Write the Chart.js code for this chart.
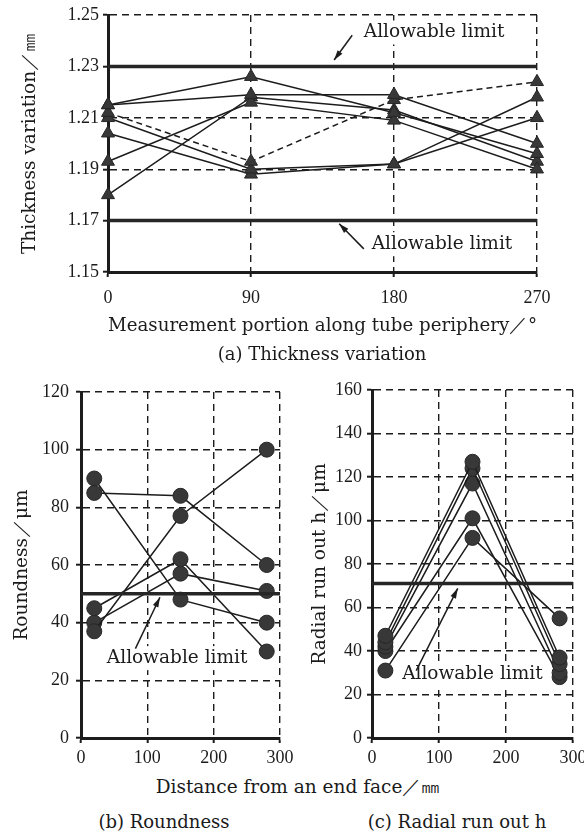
<!DOCTYPE html>
<html>
<head>
<meta charset="utf-8">
<script src="https://cdn.jsdelivr.net/npm/chart.js@4.4.1/dist/chart.umd.min.js"></script>
<style>
  body { margin: 0; background: #fff; width: 584px; height: 834px; position: relative; overflow: hidden;
         font-family: "DejaVu Serif", serif; color: #1a1a1a; }
  canvas { position: absolute; }
  .txt { position: absolute; white-space: nowrap; transform: translate(-50%, -50%); font-size: 18px; }
</style>
</head>
<body>
<canvas id="chartA" width="600" height="345" style="left:0;top:0"></canvas>
<canvas id="chartB" width="320" height="400" style="left:0;top:372px"></canvas>
<canvas id="chartC" width="330" height="400" style="left:290px;top:372px"></canvas>
<div class="txt" style="left:322px;top:353px">(a) Thickness variation</div>
<div class="txt" style="left:298px;top:786px;font-size:18.5px">Distance from an end face／㎜</div>
<div class="txt" style="left:164px;top:821px">(b) Roundness</div>
<div class="txt" style="left:457px;top:821px">(c) Radial run out h</div>
<script>
// (a) thickness, measured at 4 angles
const anglesA = [0, 90, 180, 270];
const thick1 = [1.215, 1.226, 1.212, 1.196];
const thick2 = [1.215, 1.219, 1.219, 1.200];
const thick3 = [1.212, 1.193, 1.217, 1.224]; // drawn dashed
const thick4 = [1.210, 1.190, 1.192, 1.218];
const thick5 = [1.204, 1.188, 1.192, 1.210];
const thick6 = [1.193, 1.216, 1.209, 1.190];
const thick7 = [1.180, 1.218, 1.213, 1.193];
const thickLimits = [1.23, 1.17];
const ticksAx = [0, 90, 180, 270];
const ticksAy = [1.15, 1.17, 1.19, 1.21, 1.23, 1.25];

// (b) roundness and (c) radial run out, measured at 3 distances
const distBC = [20, 150, 280];
const round1 = [85, 84, 60];
const round2 = [90, 48, 40];
const round3 = [37, 77, 100];
const round4 = [45, 62, 30];
const round5 = [40, 57, 51];
const roundLimit = 50;
const runout1 = [47, 127, 37];
const runout2 = [44, 124, 34];
const runout3 = [42, 117, 30];
const runout4 = [40, 101, 28];
const runout5 = [31, 92, 55];
const runoutLimit = 71;
const ticksBCx = [0, 100, 200, 300];
const ticksBy = [0, 20, 40, 60, 80, 100, 120];
const ticksCy = [0, 20, 40, 60, 80, 100, 120, 140, 160];

const INK = '#1c1c1c';
const TEXT_FONT = '18.5px "DejaVu Serif", serif';
Chart.defaults.font.family = '"DejaVu Serif", serif';
Chart.defaults.color = INK;
Chart.defaults.animation = false;

// "Allowable limit" labels with arrows, placed in data coordinates
const notePlugin = {
  id: 'notes',
  beforeDatasetsDraw(chart, args, opts) {
    const { ctx, scales: { x, y } } = chart;
    ctx.save();
    ctx.font = TEXT_FONT;
    (opts.items || []).forEach(n => {
      const tx = x.getPixelForValue(n.at[0]), ty = y.getPixelForValue(n.at[1]);
      const w = ctx.measureText(opts.label).width;
      ctx.fillStyle = '#fff';
      ctx.fillRect(tx - 2, ty - 12, w + 4, 24);
    });
    ctx.restore();
  },
  afterDatasetsDraw(chart, args, opts) {
    const { ctx, scales: { x, y } } = chart;
    (opts.items || []).forEach(n => {
      ctx.save();
      ctx.font = TEXT_FONT;
      ctx.fillStyle = INK;
      ctx.textBaseline = 'middle';
      ctx.fillText(opts.label, x.getPixelForValue(n.at[0]), y.getPixelForValue(n.at[1]));
      const x1 = x.getPixelForValue(n.from[0]), y1 = y.getPixelForValue(n.from[1]);
      const x2 = x.getPixelForValue(n.to[0]), y2 = y.getPixelForValue(n.to[1]);
      ctx.strokeStyle = INK;
      ctx.lineWidth = 1.5;
      ctx.beginPath(); ctx.moveTo(x1, y1); ctx.lineTo(x2, y2); ctx.stroke();
      const a = Math.atan2(y2 - y1, x2 - x1), L = 10, W = 3;
      ctx.beginPath();
      ctx.moveTo(x2, y2);
      ctx.lineTo(x2 - L * Math.cos(a) + W * Math.sin(a), y2 - L * Math.sin(a) - W * Math.cos(a));
      ctx.lineTo(x2 - L * Math.cos(a) - W * Math.sin(a), y2 - L * Math.sin(a) + W * Math.cos(a));
      ctx.closePath();
      ctx.fill();
      ctx.restore();
    });
  }
};

function pts(xs, ys) { return xs.map((x, i) => ({ x: x, y: ys[i] })); }

function series(xs, ys, style, dashed) {
  return {
    data: pts(xs, ys),
    borderColor: INK, borderWidth: 1.5, borderDash: dashed ? [6, 4] : [],
    pointStyle: style, pointRadius: 7.5,
    pointBackgroundColor: '#383838', pointBorderColor: '#262626', pointBorderWidth: 1,
    clip: false, tension: 0
  };
}

function limitLine(x0, x1, v) {
  return {
    data: [{ x: x0, y: v }, { x: x1, y: v }],
    borderColor: '#262626', borderWidth: 3.5, pointRadius: 0, clip: false
  };
}

function scale(min, max, ticksArr, o) {
  return {
    type: 'linear', min: min, max: max,
    afterBuildTicks: s => { s.ticks = ticksArr.map(v => ({ value: v })); },
    afterFit: s => { if (o.w) s.width = o.w; if (o.h) s.height = o.h; },
    grid: { color: INK, lineWidth: 1.4, drawTicks: true, tickLength: 5, tickWidth: 2, tickColor: INK },
    border: { display: true, color: INK, width: 3, dash: [7, 5] },
    ticks: { font: { family: '"Liberation Serif", serif', size: 18 }, color: INK, padding: o.pad,
              autoSkip: false, maxRotation: 0, callback: o.fmt || (v => v) },
    title: { display: !!o.title, text: o.title, font: { size: 18.5 }, color: INK, padding: o.tpad }
  };
}

function baseOptions(pad, xs, ys, notes) {
  return {
    responsive: false,
    layout: { padding: pad },
    plugins: { legend: { display: false }, tooltip: { enabled: false },
               notes: { label: 'Allowable limit', items: notes } },
    scales: { x: xs, y: ys }
  };
}

// (a) Thickness variation
new Chart(document.getElementById('chartA'), {
  type: 'line',
  data: {
    datasets: [
      limitLine(0, 270, thickLimits[0]),
      limitLine(0, 270, thickLimits[1]),
      series(anglesA, thick1, 'triangle'),
      series(anglesA, thick2, 'triangle'),
      series(anglesA, thick3, 'triangle', true),
      series(anglesA, thick4, 'triangle'),
      series(anglesA, thick5, 'triangle'),
      series(anglesA, thick6, 'triangle'),
      series(anglesA, thick7, 'triangle')
    ]
  },
  options: baseOptions({ left: 0, top: 15, right: 63, bottom: 0 },
    scale(0, 270, ticksAx, { h: 73, pad: 10, title: 'Measurement portion along tube periphery／°', tpad: { top: 0, bottom: 8 } }),
    scale(1.15, 1.25, ticksAy, { w: 108, pad: 4, fmt: v => v.toFixed(2), title: 'Thickness variation／㎜', tpad: { top: 19, bottom: 0 } }),
    [
      { at: [161, 1.2432], from: [153.7, 1.2421], to: [142.3, 1.2325] },
      { at: [166, 1.1608], from: [161, 1.1590], to: [145.5, 1.1688] }
    ]),
  plugins: [notePlugin]
});

// (b) Roundness
new Chart(document.getElementById('chartB'), {
  type: 'line',
  data: {
    datasets: [
      limitLine(0, 300, roundLimit),
      series(distBC, round1, 'circle'),
      series(distBC, round2, 'circle'),
      series(distBC, round3, 'circle'),
      series(distBC, round4, 'circle'),
      series(distBC, round5, 'circle')
    ]
  },
  options: baseOptions({ left: 0, top: 20, right: 40, bottom: 0 },
    scale(0, 300, ticksBCx, { h: 34, pad: 4 }),
    scale(0, 120, ticksBy, { w: 81, pad: 7, title: 'Roundness／μm', tpad: { top: 11, bottom: 0 } }),
    [ { at: [39, 27.7], from: [82, 31], to: [119, 48.8] } ]),
  plugins: [notePlugin]
});

// (c) Radial run out h
new Chart(document.getElementById('chartC'), {
  type: 'line',
  data: {
    datasets: [
      limitLine(0, 300, runoutLimit),
      series(distBC, runout1, 'circle'),
      series(distBC, runout2, 'circle'),
      series(distBC, runout3, 'circle'),
      series(distBC, runout4, 'circle'),
      series(distBC, runout5, 'circle')
    ]
  },
  options: baseOptions({ left: 0, top: 18, right: 47, bottom: 0 },
    scale(0, 300, ticksBCx, { h: 34, pad: 4 }),
    scale(0, 160, ticksCy, { w: 82, pad: 5, title: 'Radial run out h／μm', tpad: { top: 19, bottom: 0 } }),
    [ { at: [45, 29.5], from: [66, 31], to: [128, 68.8] } ]),
  plugins: [notePlugin]
});
</script>
</body>
</html>
